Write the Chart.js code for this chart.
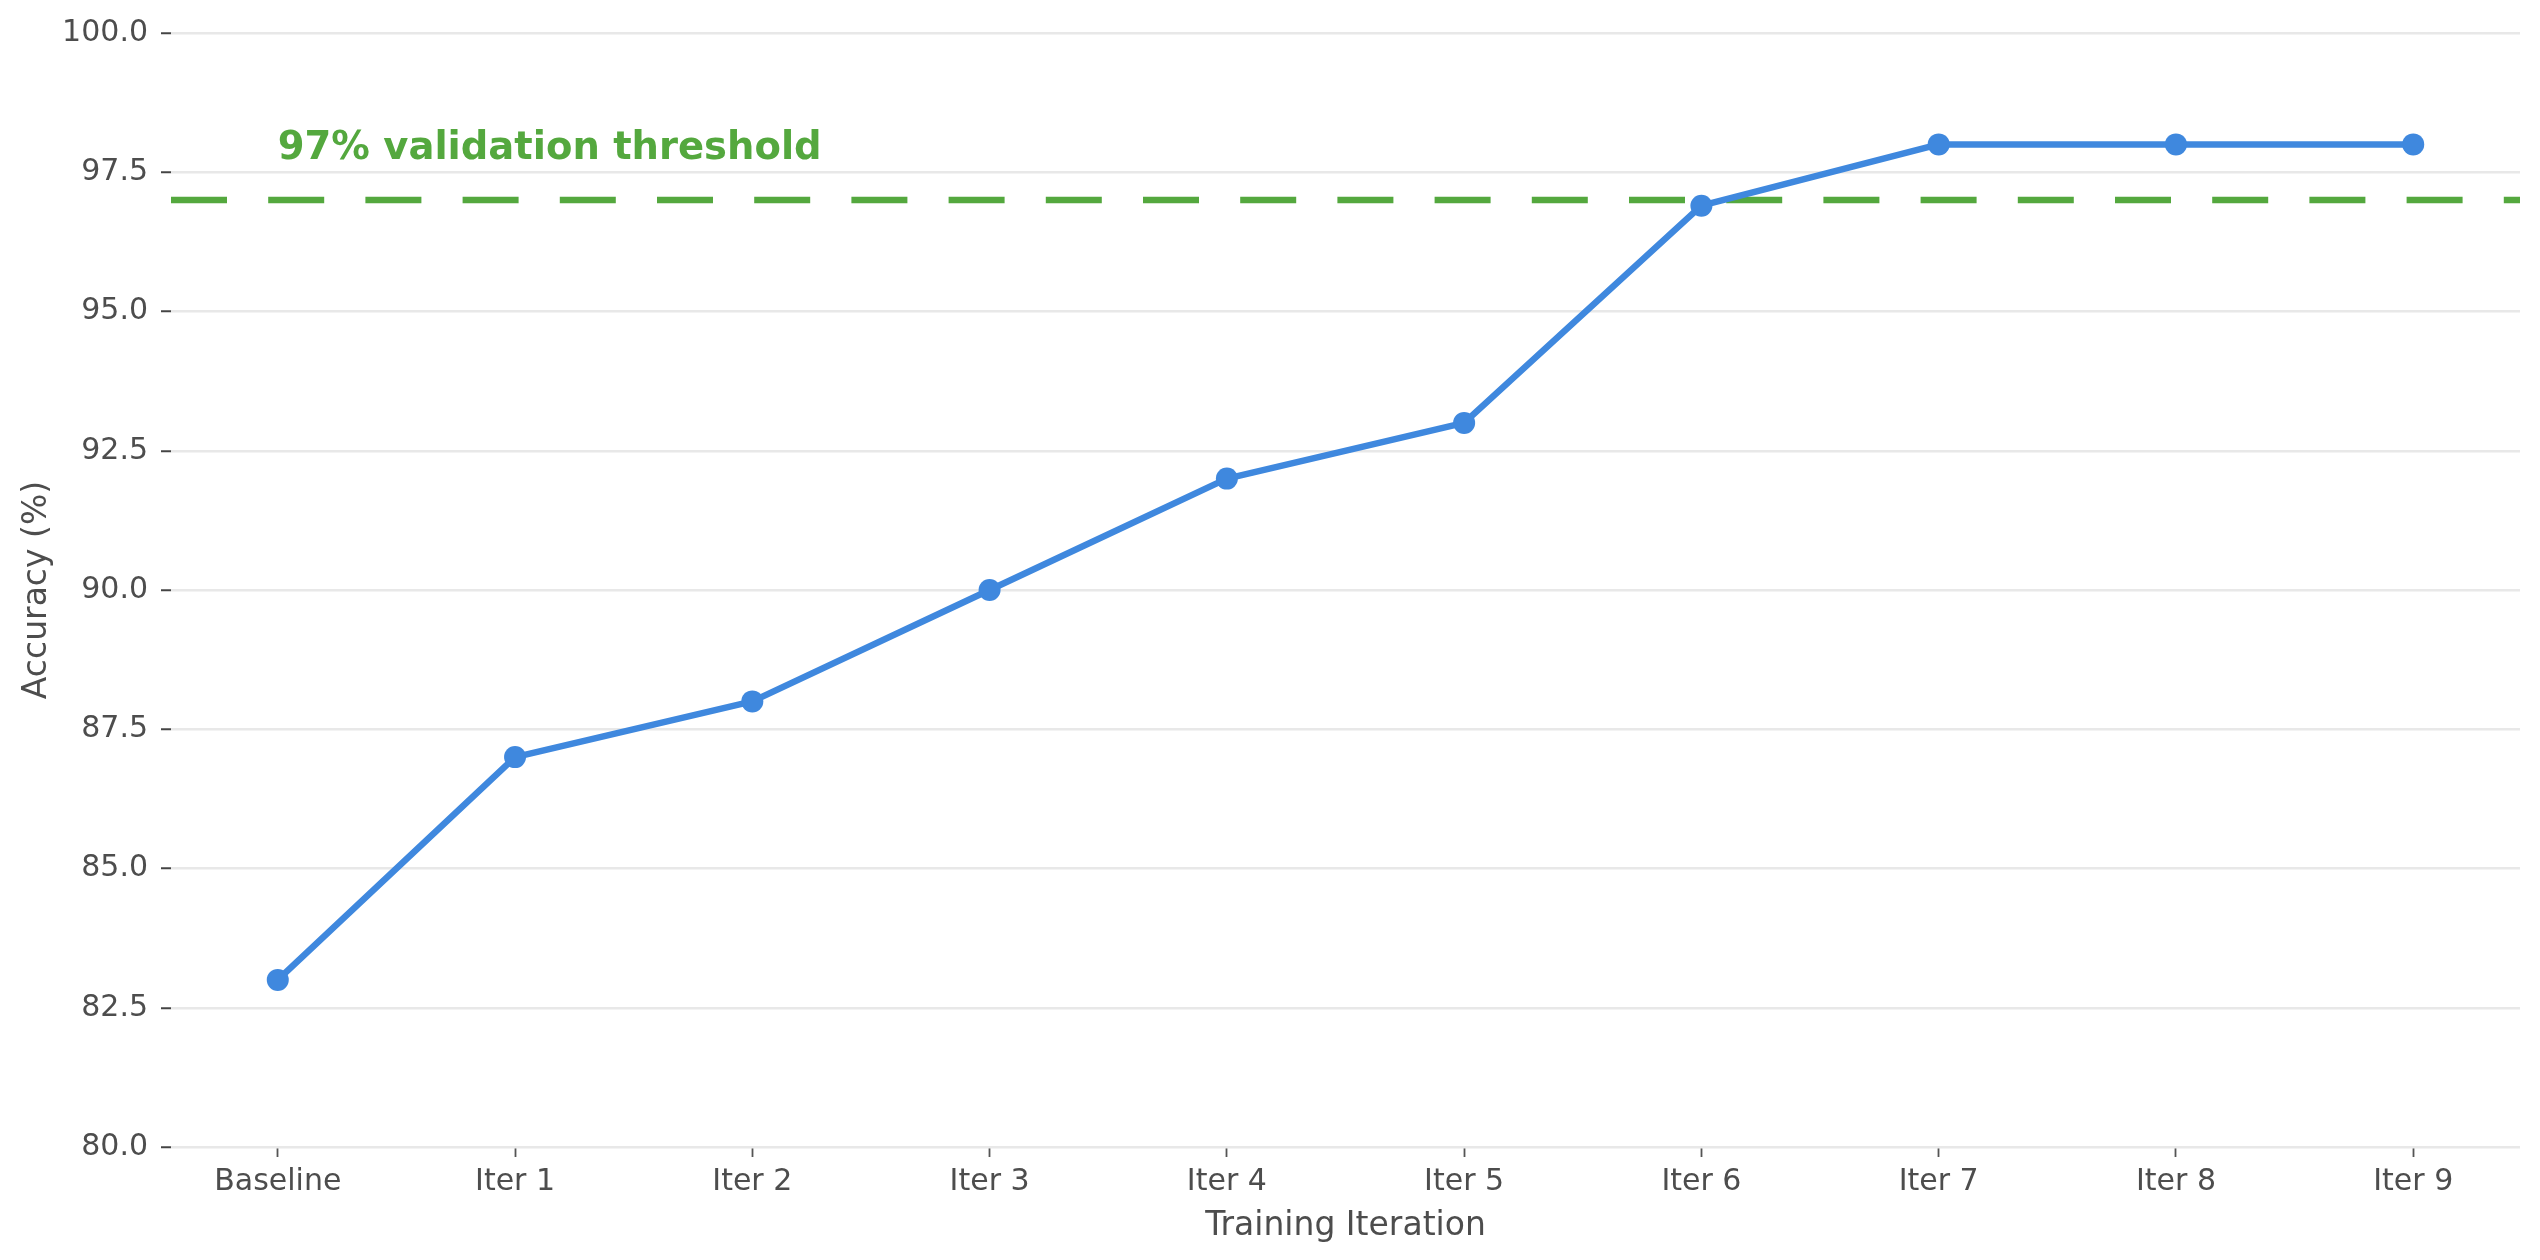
<!DOCTYPE html>
<html>
<head>
<meta charset="utf-8">
<script src="https://cdn.jsdelivr.net/npm/chart.js@4/dist/chart.umd.min.js"></script>
<style>
  html, body { margin: 0; padding: 0; background: #fff; }
  #wrap { width: 2540px; height: 1260px; }
</style>
</head>
<body>
<div id="wrap"><canvas id="grafico" width="2540" height="1260"></canvas></div>
<script>
const categories = ["Baseline", "Iter 1", "Iter 2", "Iter 3", "Iter 4", "Iter 5", "Iter 6", "Iter 7", "Iter 8", "Iter 9"];
const accuracy = [83, 87, 88, 90, 92, 93, 96.9, 98, 98, 98];
const yTicks = [80, 82.5, 85, 87.5, 90, 92.5, 95, 97.5, 100];
const threshold = 97;
const thresholdLabel = "97% validation threshold";
const labelAt = { x: 0, y: 97.74 };

const textColor = "#4d4d4d";
const blue = "#3f88de";
const green = "#54a83e";

const xMin = -0.45;
const xMax = categories.length - 1 + 0.45;

// threshold label, drawn in data coords
const thresholdText = {
  id: "thresholdText",
  afterDatasetsDraw(chart) {
    const ctx = chart.ctx;
    const px = chart.scales.x.getPixelForValue(labelAt.x);
    const py = chart.scales.y.getPixelForValue(labelAt.y);
    ctx.save();
    ctx.font = "bold 38.5px 'DejaVu Sans'";
    ctx.fillStyle = green;
    ctx.textAlign = "left";
    ctx.textBaseline = "alphabetic";
    ctx.fillText(thresholdLabel, px, py);
    ctx.restore();
  }
};

let canvas = document.getElementById("grafico").getContext("2d");
var chart = new Chart(canvas, {
  type: "line",
  data: {
    datasets: [
      {
        label: "Accuracy",
        data: accuracy.map((v, i) => ({ x: i, y: v })),
        borderColor: blue,
        backgroundColor: blue,
        borderWidth: 6.5,
        pointRadius: 11,
        pointBorderWidth: 0,
        pointBackgroundColor: blue,
        tension: 0,
        borderJoinStyle: "round",
        clip: false
      },
      {
        label: "Threshold",
        data: [{ x: xMin, y: threshold }, { x: xMax, y: threshold }],
        borderColor: green,
        borderWidth: 6.5,
        borderDash: [56, 41.2],
        borderCapStyle: "butt",
        pointRadius: 0
      }
    ]
  },
  options: {
    responsive: false,
    animation: false,
    devicePixelRatio: 1,
    layout: { padding: { top: 33, right: 20, left: 0, bottom: 0 } },
    plugins: {
      legend: { display: false },
      tooltip: { enabled: false }
    },
    scales: {
      x: {
        type: "linear",
        min: xMin,
        max: xMax,
        afterBuildTicks: s => { s.ticks = categories.map((c, i) => ({ value: i })); },
        afterFit: s => { s.height = 113; },
        border: { display: false },
        grid: {
          drawOnChartArea: false,
          drawTicks: true,
          tickLength: 10,
          tickWidth: 1.8,
          tickColor: "#555"
        },
        ticks: {
          autoSkip: false,
          maxRotation: 0,
          padding: 7,
          color: textColor,
          font: { family: "DejaVu Sans", size: 30 },
          callback: v => categories[v]
        },
        title: {
          display: true,
          text: "Training Iteration",
          color: textColor,
          font: { family: "DejaVu Sans", size: 33 },
          padding: { top: 0, bottom: 14 }
        }
      },
      y: {
        min: 80,
        max: 100,
        afterBuildTicks: s => { s.ticks = yTicks.map(v => ({ value: v })); },
        afterFit: s => { s.width = 171; },
        border: { display: false },
        grid: {
          color: "#e8e8e8",
          lineWidth: 2.5,
          drawTicks: true,
          tickLength: 10,
          tickWidth: 2,
          tickColor: "#444"
        },
        ticks: {
          padding: 13,
          color: textColor,
          font: { family: "DejaVu Sans", size: 30 },
          callback: v => Number(v).toFixed(1)
        },
        title: {
          display: true,
          text: "Accuracy (%)",
          color: textColor,
          font: { family: "DejaVu Sans", size: 33 },
          padding: { top: 18, bottom: 0 }
        }
      }
    }
  },
  plugins: [thresholdText]
});
</script>
</body>
</html>
